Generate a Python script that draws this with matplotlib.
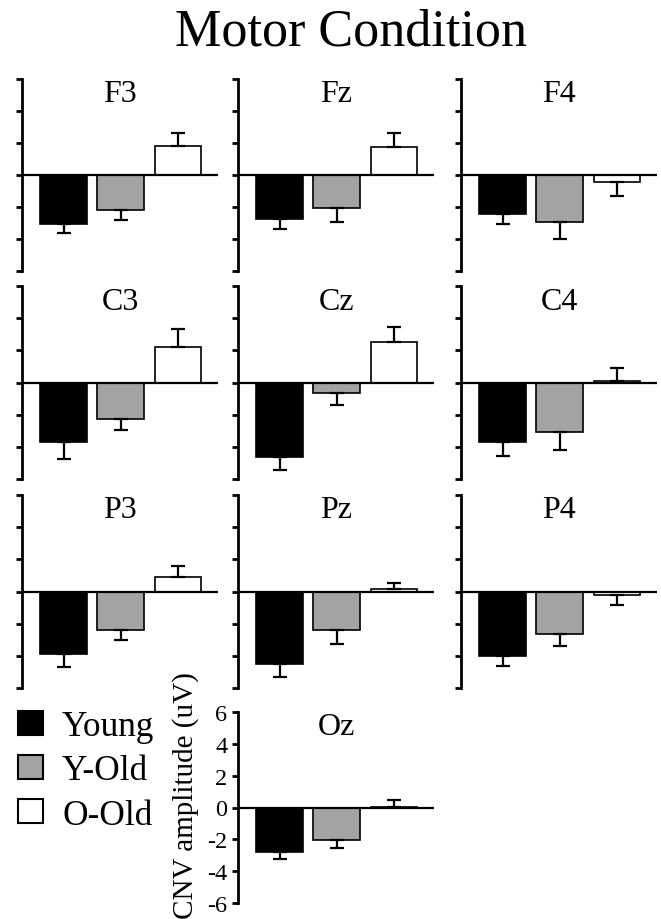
import matplotlib
matplotlib.use("Agg")
import matplotlib.pyplot as plt
from matplotlib.patches import Patch
from matplotlib.ticker import FuncFormatter
import numpy as np

plt.rcParams['font.family'] = ['Liberation Serif', 'DejaVu Serif']
plt.rcParams['axes.unicode_minus'] = False

groups = ["Young", "Y-Old", "O-Old"]
colors = ["#000000", "#a3a3a3", "#ffffff"]

electrodes = ["F3", "Fz", "F4", "C3", "Cz", "C4", "P3", "Pz", "P4", "Oz"]
means = {
    "F3": [-3.04, -2.17, 1.79],
    "Fz": [-2.75, -2.04, 1.73],
    "F4": [-2.42, -2.94, -0.42],
    "C3": [-3.69, -2.24, 2.19],
    "Cz": [-4.66, -0.68, 2.53],
    "C4": [-3.69, -3.09, 0.10],
    "P3": [-3.87, -2.38, 0.91],
    "Pz": [-4.52, -2.40, 0.14],
    "P4": [-3.98, -2.67, -0.19],
    "Oz": [-2.79, -2.06, 0.03],
}
errors = {
    "F3": [0.61, 0.62, 0.83],
    "Fz": [0.62, 0.92, 0.89],
    "F4": [0.64, 1.06, 0.87],
    "C3": [1.05, 0.74, 1.12],
    "Cz": [0.76, 0.69, 0.93],
    "C4": [0.86, 1.09, 0.81],
    "P3": [0.81, 0.66, 0.68],
    "Pz": [0.78, 0.85, 0.38],
    "P4": [0.64, 0.71, 0.62],
    "Oz": [0.46, 0.50, 0.47],
}
yticks = [-6, -4, -2, 0, 2, 4, 6]

W, H = 661, 920
fig = plt.figure(figsize=(W / 100, H / 100), dpi=100)

col_left = [22, 238, 461]
col_w = 196
rows = [(80, 272), (287, 480), (496, 689), (713, 904)]

positions = {
    "F3": (0, 0), "Fz": (0, 1), "F4": (0, 2),
    "C3": (1, 0), "Cz": (1, 1), "C4": (1, 2),
    "P3": (2, 0), "Pz": (2, 1), "P4": (2, 2),
    "Oz": (3, 1),
}

x = np.arange(len(groups))
for name in electrodes:
    r, c = positions[name]
    top, bot = rows[r]
    ax = fig.add_axes([col_left[c] / W, 1 - bot / H, col_w / W, (bot - top) / H])
    m = np.array(means[name])
    e = np.array(errors[name])
    lower = np.where(m < 0, e, 0)
    upper = np.where(m >= 0, e, 0)
    ax.bar(x, m, width=0.82, color=colors, edgecolor='black', linewidth=1.2, zorder=2)
    ax.errorbar(x, m, yerr=[lower, upper], fmt='none', ecolor='black',
                elinewidth=1.6, capsize=4.7, capthick=1.6, zorder=3)
    ax.axhline(0, color='black', lw=1.6, zorder=4)
    ax.set_xlim(-0.73, 2.70)
    ax.set_ylim(-6, 6)
    ax.set_yticks(yticks)
    for s in ['top', 'right', 'bottom']:
        ax.spines[s].set_visible(False)
    ax.spines['left'].set_linewidth(2.0)
    ax.set_xticks([])
    ax.tick_params(axis='y', direction='out', length=4.5, width=2.0, pad=3)
    if name == "Oz":
        ax.yaxis.set_major_formatter(FuncFormatter(lambda v, p: "%d" % v))
        ax.tick_params(axis='y', labelsize=17.5)
        ax.set_ylabel("CNV amplitude (uV)", fontsize=21)
        ax.yaxis.set_label_coords((197 - 236) / col_w, (904 - 796) / (bot - top))
    else:
        ax.set_yticklabels([])
    ax.text(0.5, 1 - 22.5 / (bot - top), name, transform=ax.transAxes,
            ha='center', va='baseline', fontsize=23)

fig.text(351 / W, 1 - 46 / H, "Motor Condition", ha='center', va='baseline', fontsize=37.5)

handles = [Patch(facecolor=col, edgecolor='black', linewidth=1.5) for col in colors]
fig.legend(handles, groups, loc='upper left', bbox_to_anchor=(18 / W, 1 - 711 / H),
           frameon=False, fontsize=25.4, handlelength=0.71, handleheight=0.68,
           handletextpad=0.54, labelspacing=0.32, borderaxespad=0, borderpad=0)

fig.savefig("out.png", dpi=100)
